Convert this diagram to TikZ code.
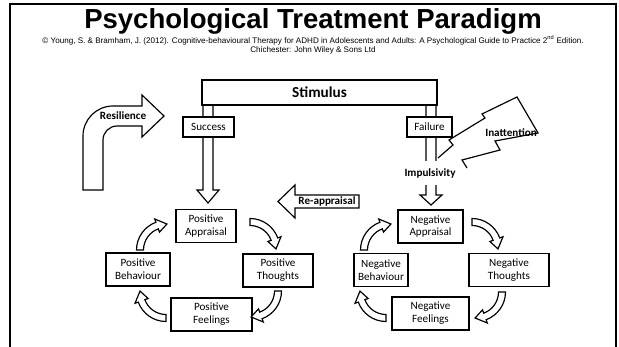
\documentclass[tikz,border=0pt]{standalone}
\usepackage{fontspec}
\setmainfont{Carlito}
\newfontfamily\arialfont{Liberation Sans}
\usetikzlibrary{calc}

\tikzset{
    cbox/.style={draw, line width=1pt, fill=white, align=center, inner sep=0pt,
        minimum height=33*0.03cm, font=\fontsize{9.5}{11}\selectfont},
    blabel/.style={font=\fontsize{9.5}{11}\selectfont\bfseries, inner sep=1pt},
    blockarrow/.style={draw, line width=1pt, fill=white, line join=miter},
}
\newcommand{\cycArrow}[4]{%
    \draw[blockarrow] ($(#1,#2)+(#3:29.5)$) arc[start angle=#3, end angle=#4, radius=29.5]
        -- ($(#1,#2)+(#4:33)$) -- ($(#1,#2)+(#4+22:26)$) -- ($(#1,#2)+(#4:19)$)
        -- ($(#1,#2)+(#4:22.5)$) arc[start angle=#4, end angle=#3, radius=22.5] -- cycle;
}
\newcommand{\hollowDown}[4]{%
    \draw[blockarrow] (#1-5,#2) -- (#1-5,#3) -- (#1-11,#3) -- (#1,#4) -- (#1+11,#3) -- (#1+5,#3) -- (#1+5,#2);
}

\begin{document}
\begin{tikzpicture}[x=0.03cm, y=-0.03cm]
    \useasboundingbox (0,0) rectangle (619,347);
    \draw[line width=1.6pt] (10,347) -- (10,4) -- (616,4) -- (616,347);

    \node (title) at (313,21) {\arialfont\fontsize{23.5}{25}\selectfont\bfseries Psychological Treatment Paradigm};
    \node[align=center, inner sep=0pt, font=\arialfont\fontsize{6.9}{7.7}\selectfont] (cite) at (313,45)
        {\textcopyright{} Young, S. \& Bramham, J. (2012). Cognitive-behavioural Therapy for ADHD in Adolescents and Adults: A Psychological Guide to Practice 2\textsuperscript{nd} Edition.\\Chichester: John Wiley \& Sons Ltd};

    % stimulus and its two outcomes
    \hollowDown{208}{105}{190}{203}
    \hollowDown{431}{105}{195}{205}
    \node[cbox, minimum width=235*0.03cm, minimum height=25*0.03cm, font=\fontsize{13}{15}\selectfont\bfseries] (stim) at (319.5,92.5) {Stimulus};
    \node[cbox, minimum width=51*0.03cm, minimum height=20*0.03cm] (succ) at (208.5,127) {Success};
    \node[cbox, minimum width=45*0.03cm, minimum height=20*0.03cm] (fail) at (429.5,127) {Failure};

    \draw[blockarrow] (438,158) -- (453,145) -- (449,140) -- (485,118) -- (482,114) -- (517,97) -- (538,133)
        -- (495,141) -- (500,150) -- (462,160) -- (467,168);
    \node[blabel] (inatt) at (511,133) {Inattention};
    \node[blabel, fill=white, minimum width=53*0.03cm, minimum height=24*0.03cm] (impuls) at (430,173) {Impulsivity};

    \draw[blockarrow] (83,190) -- (83,136) arc[start angle=180, end angle=270, radius=30] -- (142,106) -- (142,95)
        -- (164,116) -- (142,137) -- (142,126) -- (117,126) arc[start angle=270, end angle=180, radius=14] -- (103,190) -- cycle;
    \node[blabel] (resil) at (123,116) {Resilience};

    \draw[blockarrow] (359,195) -- (295,195) -- (295,185) -- (278,201.5) -- (295,218) -- (295,208) -- (359,208) -- cycle;
    \node[blabel] (reapp) at (327,201.5) {Re-appraisal};

    % the two cycles
    \foreach \nm/\x/\y/\w/\txt in {pApp/206/226/60/{Positive\\Appraisal}, pTho/278/270.5/70/{Positive\\Thoughts},
            pBeh/138/269.5/64/{Positive\\Behaviour}, pFee/211.5/314.5/81/{Positive\\Feelings},
            nApp/430.5/226.5/65/{Negative\\Appraisal}, nTho/509/270/80/{Negative\\Thoughts},
            nBeh/381/270/54/{Negative\\Behaviour}, nFee/430.5/313.5/77/{Negative\\Feelings}} {
        \node[cbox, minimum width=\w*0.03cm] (\nm) at (\x,\y) {\txt};
    }
    \foreach \cx/\cy/\ta/\ha in {166/250/180/250, 250/248/270/340, 252/291/0/70, 166/292/90/160,
            390/250/180/250, 472/248/270/340, 476/292/0/70, 386/292/90/160} {
        \cycArrow{\cx}{\cy}{\ta}{\ha}
    }
\end{tikzpicture}
\end{document}
